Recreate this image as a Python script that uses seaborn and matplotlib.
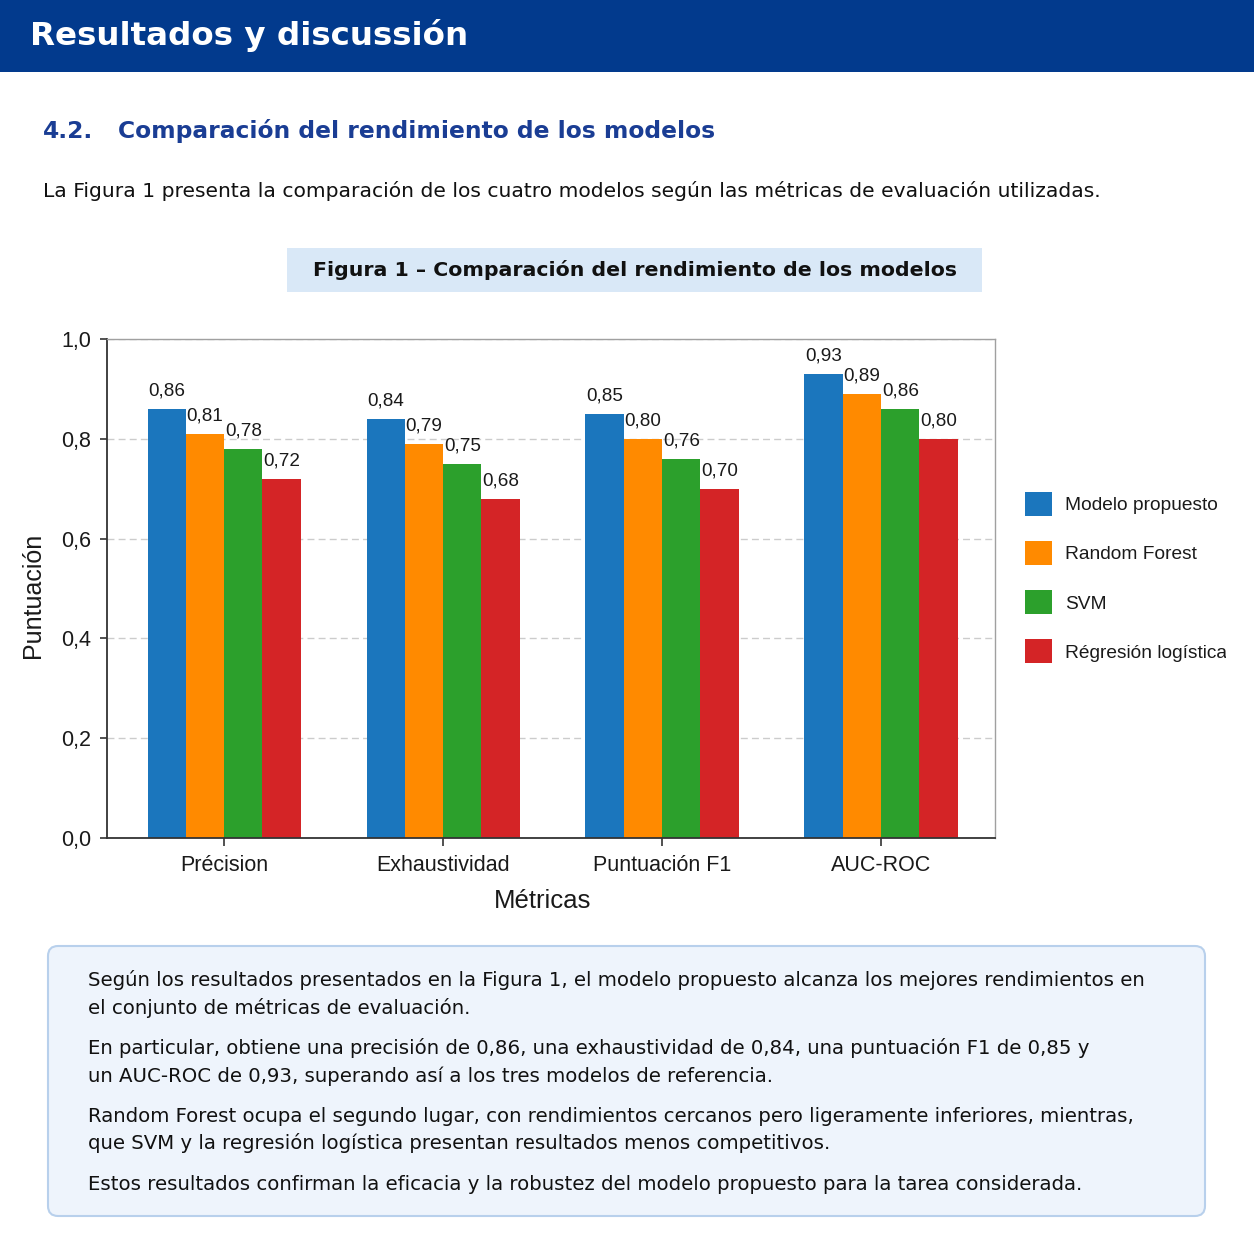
import numpy as np
import pandas as pd
import matplotlib
matplotlib.use("Agg")
import matplotlib.pyplot as plt
import seaborn as sns
from matplotlib.patches import Rectangle, FancyBboxPatch, Patch
from matplotlib.transforms import Bbox, TransformedBbox

# ---------------- data ----------------
metrics = ["Précision", "Exhaustividad", "Puntuación F1", "AUC-ROC"]
models = ["Modelo propuesto", "Random Forest", "SVM", "Régresión logística"]
modelo_propuesto = [0.86, 0.84, 0.85, 0.93]
random_forest = [0.81, 0.79, 0.80, 0.89]
svm = [0.78, 0.75, 0.76, 0.86]
regresion_logistica = [0.72, 0.68, 0.70, 0.80]
series = [modelo_propuesto, random_forest, svm, regresion_logistica]
yticks = [0.0, 0.2, 0.4, 0.6, 0.8, 1.0]
colors = ["#1b76bd", "#ff8a00", "#2ca02c", "#d42426"]

header_title = "Resultados y discussión"
section_num = "4.2."
section_title = "Comparación del rendimiento de los modelos"
intro = "La Figura 1 presenta la comparación de los cuatro modelos según las métricas de evaluación utilizadas."
fig_title = "Figura 1 – Comparación del rendimiento de los modelos"
box_lines = [
    "Según los resultados presentados en la Figura 1, el modelo propuesto alcanza los mejores rendimientos en",
    "el conjunto de métricas de evaluación.",
    "En particular, obtiene una precisión de 0,86, una exhaustividad de 0,84, una puntuación F1 de 0,85 y",
    "un AUC-ROC de 0,93, superando así a los tres modelos de referencia.",
    "Random Forest ocupa el segundo lugar, con rendimientos cercanos pero ligeramente inferiores, mientras,",
    "que SVM y la regresión logística presentan resultados menos competitivos.",
    "Estos resultados confirman la eficacia y la robustez del modelo propuesto para la tarea considerada.",
]

# ---------------- setup ----------------
sns.set_theme(style="white")
plt.rcParams["font.family"] = ["Liberation Sans", "DejaVu Sans"]

W = H = 1254
fig = plt.figure(figsize=(W / 100, H / 100), dpi=100)
fig.patch.set_facecolor("white")
renderer = fig.canvas.get_renderer()


def fx(px):
    return px / W


def fy(py):
    return 1 - py / H


def fit(t, width_px):
    bb = t.get_window_extent(renderer)
    t.set_fontsize(t.get_fontsize() * width_px / bb.width)
    return t.get_fontsize()


PAGE = "DejaVu Sans"

# header band
fig.add_artist(Rectangle((0, fy(72)), 1, 72 / H, transform=fig.transFigure,
                         facecolor="#023a8d", edgecolor="none", zorder=0))
t = fig.text(fx(30), fy(36), header_title, color="white", fontweight="bold",
             family=PAGE, fontsize=24, va="center", ha="left")
fit(t, 438)

# section heading
t1 = fig.text(fx(118), fy(131), section_title, color="#1a3d94", fontweight="bold",
              family=PAGE, fontsize=16, va="center", ha="left")
fs = fit(t1, 597)
fig.text(fx(43), fy(131), section_num, color="#1a3d94", fontweight="bold",
         family=PAGE, fontsize=fs, va="center", ha="left")

# intro paragraph
t = fig.text(fx(43), fy(191), intro, color="#111111", family=PAGE, fontsize=14,
             va="center", ha="left")
fit(t, 1057)

# figure title box
fig.add_artist(Rectangle((fx(287), fy(292)), fx(982) - fx(287), (292 - 248) / H,
                         transform=fig.transFigure, facecolor="#d9e8f7",
                         edgecolor="none", zorder=0))
t = fig.text(fx(635), fy(270), fig_title, color="#111111", fontweight="bold",
             family=PAGE, fontsize=15, va="center", ha="center")
fit(t, 644)

# ---------------- chart ----------------
ax = fig.add_axes([fx(107), fy(838), fx(995) - fx(107), (838 - 339) / H])
df = pd.DataFrame({
    "Métrica": metrics * len(models),
    "Modelo": np.repeat(models, len(metrics)),
    "Puntuación": np.concatenate(series),
})
sns.barplot(data=df, x="Métrica", y="Puntuación", hue="Modelo", order=metrics,
            hue_order=models, palette=colors, width=0.7, saturation=1,
            linewidth=0, legend=False, ax=ax, zorder=2)

for cont, vals in zip(ax.containers, series):
    ax.bar_label(cont, labels=[f"{v:.2f}".replace(".", ",") for v in vals],
                 padding=6.5, fontsize=13.6, color="#1a1a1a")

ax.set_xlim(-0.535, 3.52)
ax.set_ylim(0, 1.0)
ax.set_yticks(yticks)
ax.set_yticklabels([f"{v:.1f}".replace(".", ",") for v in yticks])
ax.yaxis.grid(True, linestyle=(0, (5, 3)), color="#cccccc", linewidth=1)
ax.xaxis.grid(False)
ax.set_axisbelow(True)
ax.tick_params(axis="y", left=True, length=5, width=1.2, color="#333333",
               labelsize=15.5, pad=6.5, labelcolor="#1a1a1a")
ax.tick_params(axis="x", bottom=True, length=6, width=1.2, color="#333333",
               labelsize=15.5, pad=6, labelcolor="#1a1a1a")
for s in ["left", "bottom"]:
    ax.spines[s].set_color("#333333")
    ax.spines[s].set_linewidth(1.3)
for s in ["top", "right"]:
    ax.spines[s].set_color("#a0a0a0")
    ax.spines[s].set_linewidth(1.0)

ax.set_xlabel("Métricas", fontsize=18.5, color="#1a1a1a")
ax.set_ylabel("Puntuación", fontsize=18, color="#1a1a1a")
ax.xaxis.set_label_coords(0.49, -0.103)
ax.yaxis.set_label_coords(-0.07, 0.487)

handles = [Patch(facecolor=c, edgecolor="none") for c in colors]
leg = fig.legend(handles, models, loc="upper left",
                 bbox_to_anchor=(fx(1025), fy(492)), bbox_transform=fig.transFigure,
                 frameon=False, fontsize=13.8, handlelength=1.42, handleheight=1.55,
                 handletextpad=0.68, labelspacing=1.31, borderpad=0, borderaxespad=0)
for txt in leg.get_texts():
    txt.set_color("#1a1a1a")
clip = TransformedBbox(Bbox([[0, 0], [fx(1226), 1]]), fig.transFigure)
leg.get_texts()[-1].set_clip_box(clip)
leg.get_texts()[-1].set_clip_on(True)

# ---------------- bottom text box ----------------
fig.add_artist(FancyBboxPatch((fx(48), fy(1216)), fx(1205) - fx(48), (1216 - 946) / H,
                              boxstyle="round,pad=0,rounding_size=0.008",
                              transform=fig.transFigure, facecolor="#eef4fc",
                              edgecolor="#b8d0ec", linewidth=1.5, zorder=0))
line_y = [980, 1008, 1048, 1076, 1116, 1143, 1184]
t0 = fig.text(fx(88), fy(line_y[0]), box_lines[0], family=PAGE, fontsize=13.5,
              color="#111111", va="center", ha="left")
fs = fit(t0, 1061)
for ly, line in zip(line_y[1:], box_lines[1:]):
    fig.text(fx(88), fy(ly), line, family=PAGE, fontsize=fs, color="#111111",
             va="center", ha="left")

fig.savefig("out.png", dpi=100, facecolor="white")
